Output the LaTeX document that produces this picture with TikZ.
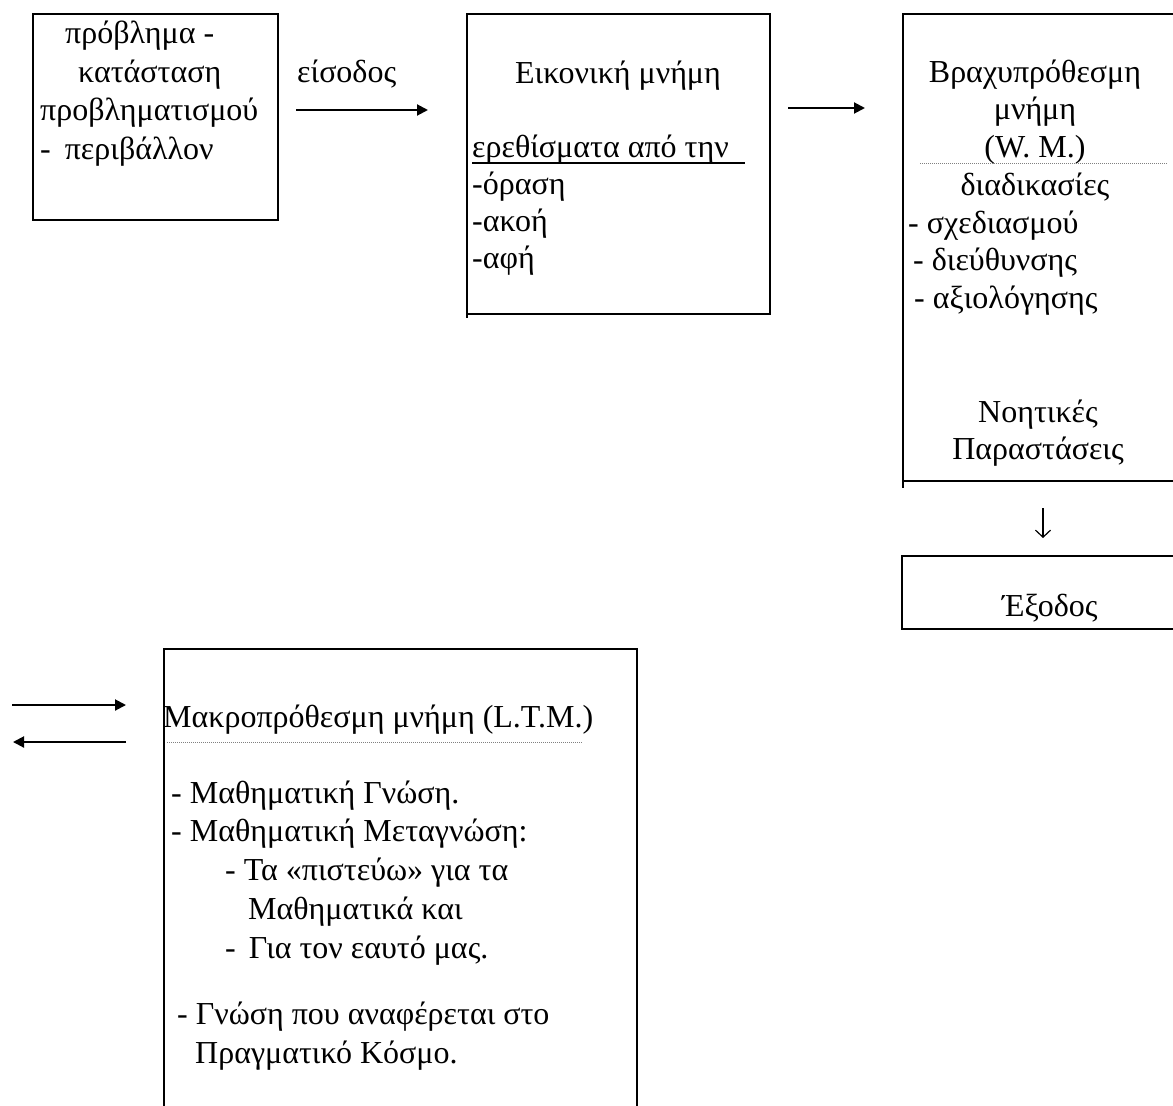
\documentclass[tikz,border=0pt]{standalone}
\usepackage{fontspec}
\setmainfont{Liberation Serif}
\usetikzlibrary{arrows.meta}

\begin{document}
\begin{tikzpicture}[x=1pt,y=-1pt,
	frame/.style={draw,line width=2pt,inner sep=0pt,outer sep=0pt,anchor=north west},
	txt/.style={font=\fontsize{32}{38.7}\selectfont,inner sep=0pt,align=left,anchor=north west},
	arr/.style={line width=2pt,-{Triangle[length=11pt,width=11pt]}},
	sep/.style={gray,line width=1pt,dash pattern=on 1pt off 1pt}]
	\useasboundingbox (0,0) rectangle (1173,1106);
	\clip (0,0) rectangle (1173,1106);

	% Boxes start here
	\node (prob) at (33,14) [frame,minimum width=245pt,minimum height=206pt] {};
	\node (icon) at (467,14) [frame,minimum width=303pt,minimum height=300pt] {};
	\node (wm) at (903,14) [frame,minimum width=290pt,minimum height=467pt] {};
	\node (exodos) at (902,556) [frame,minimum width=290pt,minimum height=73pt] {};
	\node (ltm) at (164,649) [frame,minimum width=473pt,minimum height=470pt] {};
	\draw[line width=2pt] (icon.south west) -- ++(0,4);
	\draw[line width=2pt] (wm.south west) -- ++(0,7);

	% Texts start here
	\node (probtxt) at (40,16.2) [txt] {\strut\hspace*{25pt}πρόβλημα -\\
		\hspace*{38pt}κατάσταση\\
		προβληματισμού\\
		-\hspace{14pt}περιβάλλον};
	\node (eisodos) at (297,82) [txt,anchor=base west] {είσοδος};
	\node (icontitle) at (618,83) [txt,anchor=base] {Εικονική μνήμη};
	\node (icontxt) at (472,131.1) [txt,font=\fontsize{32}{37}\selectfont] {\strut ερεθίσματα από την\\
		-όραση\\
		-ακοή\\
		-αφή};
	\node (wmtitle) at (1035,55.5) [txt,align=center,anchor=north,font=\fontsize{32}{37.7}\selectfont] {\strut Βραχυπρόθεσμη\\
		μνήμη\\
		(W. M.)\\
		διαδικασίες};
	\node (wmlist) at (908,206.6) [txt,font=\fontsize{32}{37.7}\selectfont] {\strut - σχεδιασμού\\
		\hspace*{5pt}- διεύθυνσης\\
		\hspace*{6pt}- αξιολόγησης};
	\node (wmrep) at (1038,395.6) [txt,align=center,anchor=north,font=\fontsize{32}{37.7}\selectfont] {\strut Νοητικές\\
		Παραστάσεις};
	\node (exodostxt) at (1050,616) [txt,anchor=base] {Έξοδος};
	\node (ltmtitle) at (163,727) [txt,anchor=base west] {Μακροπρόθεσμη μνήμη (L.T.M.)};
	\node (ltmtxt) at (171,775.9) [txt] {\strut - Μαθηματική Γνώση.\\
		- Μαθηματική Μεταγνώση:\\
		\hspace*{54pt}- Τα «πιστεύω» για τα\\
		\hspace*{77pt}Μαθηματικά και\\
		\hspace*{54pt}-\hspace{13pt}Για τον εαυτό μας.\\[28pt]
		\hspace*{6pt}- Γνώση που αναφέρεται στο\\
		\hspace*{24pt}Πραγματικό Κόσμο.};

	% Arrow ends
	\coordinate (in1) at (296,110);
	\coordinate (in2) at (428,110);
	\coordinate (mid1) at (788,108);
	\coordinate (mid2) at (865,108);
	\coordinate (lt1) at (12,705);
	\coordinate (lt2) at (126,705);
	\coordinate (lt3) at (126,742);
	\coordinate (lt4) at (13,742);

	% Lines start here
	\draw[arr] (in1) to (in2);
	\draw[arr] (mid1) to (mid2);
	\draw[line width=1.2pt,-{Straight Barb[length=7pt,width=15pt]},shorten <=27pt,shorten >=18pt] (wm.south -| 1043,0) to (exodos.north -| 1043,0);
	\draw[arr] (lt1) to (lt2);
	\draw[arr] (lt3) to (lt4);
	\draw[line width=1.5pt] (472,163) -- (745,163);
	\draw[sep] (920,163) -- (1167,163);
	\draw[sep] (167,742) -- (582,742);

\end{tikzpicture}
\end{document}
